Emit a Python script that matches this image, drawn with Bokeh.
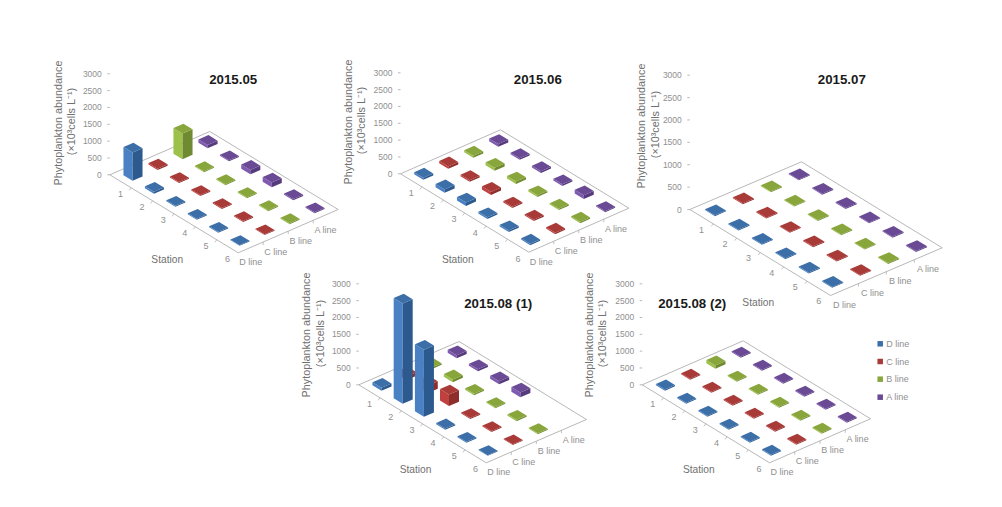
from bokeh.plotting import figure
from bokeh.models import Range1d, ColumnDataSource
from bokeh.core.properties import value
from bokeh.embed import file_html
from bokeh.resources import INLINE
import math

# ---------- data ----------
stations = ["1", "2", "3", "4", "5", "6"]
lines = ["D line", "C line", "B line", "A line"]
y_ticks = [0, 500, 1000, 1500, 2000, 2500, 3000]
titles = ["2015.05", "2015.06", "2015.07", "2015.08 (1)", "2015.08 (2)"]
N = None

may_D = [840, 60, 30, 30, 30, 20]
may_C = [40, 30, 30, 30, 30, 20]
may_B = [760, 30, 30, 30, 30, 30]
may_A = [100, 30, 130, 140, 40, 30]

jun_D = [60, 100, 100, 50, 50, 40]
jun_C = [70, 50, 90, 40, 40, 40]
jun_B = [60, 90, 70, 50, 40, 40]
jun_A = [80, 50, 50, 50, 110, 30]

jul_D = [20, 20, 20, 20, 20, 20]
jul_C = [20, 20, 20, 20, 20, 20]
jul_B = [20, 20, 20, 20, 20, 20]
jul_A = [20, 20, 20, 20, 20, 20]

aug1_D = [90, 2980, 1990, 40, 30, 20]
aug1_C = [100, 220, 340, 30, 30, 20]
aug1_B = [50, 80, 40, 30, 40, 30]
aug1_A = [90, 60, 90, 140, N, N]

aug2_D = [40, 30, 30, 30, 30, 30]
aug2_C = [30, 30, 30, 30, 30, 30]
aug2_B = [100, 30, 30, 30, 30, 30]
aug2_A = [30, 30, 30, 30, 30, 30]

panel_values = [
    [may_D, may_C, may_B, may_A],
    [jun_D, jun_C, jun_B, jun_A],
    [jul_D, jul_C, jul_B, jul_A],
    [aug1_D, aug1_C, aug1_B, aug1_A],
    [aug2_D, aug2_C, aug2_B, aug2_A],
]

# ---------- layout (page pixels) ----------
panels = [
    dict(L=(109.3, 174.3), B=(237.7, 252.3), R=(337.7, 209.0), top=73.3, title=(232.7, 79),
         ylab=(57.7, 70.0), yc=121, st=(57.4, 85)),
    dict(L=(400.0, 173.3), B=(528.3, 251.7), R=(628.3, 207.7), top=72.3, title=(537.3, 79),
         ylab=(347.3, 360.0), yc=120, st=(57.3, 85.4)),
    dict(L=(689.3, 209.0), B=(830.0, 295.0), R=(941.7, 247.3), top=74.7, title=(841.3, 79.3),
         ylab=(640.0, 654.0), yc=124, st=(68.4, 92.7)),
    dict(L=(358.3, 384.3), B=(485.7, 462.3), R=(586.0, 419.0), top=283.3, title=(497.7, 303.3),
         ylab=(305.7, 319.0), yc=333, st=(56.7, 84.7)),
    dict(L=(641.7, 384.3), B=(769.0, 462.3), R=(870.0, 418.3), top=283.3, title=(691.7, 303.3),
         ylab=(588.0, 601.7), yc=333, st=(56.6, 84.7)),
]
legend_ys = [343.3, 361.0, 378.7, 396.7]
legend_x = 879.7

colors = [
    ("#3c6fa8", "#4a80c4", "#2c5a8e", "#3c6fa8"),
    ("#a83a38", "#c0403e", "#8e2e2c", "#a83a38"),
    ("#88a63c", "#9cc04a", "#6f8a30", "#88a63c"),
    ("#6a4a94", "#7e5ab0", "#553a7c", "#6a4a94"),
]
TICK_TEXT = "#909090"
LAB_TEXT = "#707070"
EDGE = "#a6a6a6"
FOOT = 0.2  # half footprint, as share of a cell

W, H = 986, 491
p = figure(width=W, height=H, x_range=Range1d(0, W), y_range=Range1d(H, 0),
           output_backend="svg", toolbar_location=None, min_border=0,
           background_fill_color="white", outline_line_color=None)
p.axis.visible = False
p.grid.visible = False


def add_text(xs, ys, txt, size, color, align="center", angle=0.0, style="normal", font="Liberation Sans"):
    p.text(x=xs, y=ys, text=txt, text_font=value(font), text_font_size=value(f"{size}px"),
           text_color=color, text_align=align, text_baseline="middle", angle=angle,
           text_font_style=style)


for cfg, vals, title in zip(panels, panel_values, titles):
    Lx, Ly = cfg["L"]
    Bx, By = cfg["B"]
    Rx, Ry = cfg["R"]
    Sx, Sy = Bx - Lx, By - Ly
    Tx, Ty = Rx - Bx, Ry - By
    zs = (Ly - cfg["top"]) / y_ticks[-1]
    ns, nl = len(stations), len(lines)

    p.line([Lx, Bx, Rx, Lx + Tx, Lx], [Ly, By, Ry, Ly + Ty, Ly], line_color=EDGE, line_width=0.8)

    tx0 = Lx - 2.5
    p.segment(x0=[tx0] * len(y_ticks), x1=[Lx] * len(y_ticks),
              y0=[Ly - v * zs for v in y_ticks], y1=[Ly - v * zs for v in y_ticks],
              line_color=EDGE, line_width=0.8)
    add_text([Lx - 8] * len(y_ticks), [Ly - v * zs for v in y_ticks],
             [str(v) for v in y_ticks], 8.5, TICK_TEXT, align="right")

    fr = [k / ns for k in range(1, ns)]
    p.segment(x0=[Lx + f * Sx for f in fr], y0=[Ly + f * Sy for f in fr],
              x1=[Lx + f * Sx - 2 for f in fr], y1=[Ly + f * Sy + 2.5 for f in fr],
              line_color=EDGE, line_width=0.7)
    add_text([Lx + (k + .5) / ns * Sx for k in range(ns)],
             [Ly + (k + .5) / ns * Sy + 13 for k in range(ns)], stations, 9, TICK_TEXT)

    fr = [k / nl for k in range(1, nl)]
    p.segment(x0=[Bx + f * Tx for f in fr], y0=[By + f * Ty for f in fr],
              x1=[Bx + f * Tx for f in fr], y1=[By + f * Ty + 3 for f in fr],
              line_color=EDGE, line_width=0.7)
    add_text([Bx + (k + .5) / nl * Tx for k in range(nl)],
             [By + (k + .5) / nl * Ty + 15 for k in range(nl)], lines, 9, TICK_TEXT)

    add_text([cfg["title"][0]], [cfg["title"][1]], [title], 13.3, "#1a1a1a", style="bold")
    add_text([cfg["st"][0] + Lx], [cfg["st"][1] + Ly], ["Station"], 10.2, LAB_TEXT)
    add_text([cfg["ylab"][0]], [cfg["yc"]], ["Phytoplankton  abundance"], 10.8, LAB_TEXT, angle=math.pi / 2)
    add_text([cfg["ylab"][1]], [cfg["yc"]], ["(\u00d710\u00b3cells L\u207b\u00b9)"], 10.8, LAB_TEXT, angle=math.pi / 2)

    bars = []
    for j in range(nl):
        for i in range(ns):
            v = vals[j][i]
            if v is None:
                continue
            cx = Lx + (i + .5) / ns * Sx + (j + .5) / nl * Tx
            cy = Ly + (i + .5) / ns * Sy + (j + .5) / nl * Ty
            bars.append((cy, cx, j, v))
    bars.sort(key=lambda b: b[0])
    sx, sy = FOOT * Sx / ns * 1.06, FOOT * Sy / ns * 1.06
    tx, ty = FOOT * Tx / nl, FOOT * Ty / nl
    for cy, cx, j, v in bars:
        h = v * zs
        left = (cx - sx - tx, cy - sy - ty)
        bottom = (cx + sx - tx, cy + sy - ty)
        right = (cx + sx + tx, cy + sy + ty)
        back = (cx - sx + tx, cy - sy + ty)
        top_col, left_col, right_col, _ = colors[j]
        p.patch([left[0], bottom[0], bottom[0], left[0]],
                [left[1], bottom[1], bottom[1] - h, left[1] - h],
                fill_color=left_col, fill_alpha=1.0, line_color=None)
        p.patch([bottom[0], right[0], right[0], bottom[0]],
                [bottom[1], right[1], right[1] - h, bottom[1] - h],
                fill_color=right_col, fill_alpha=1.0, line_color=None)
        p.patch([left[0], bottom[0], right[0], back[0]],
                [left[1] - h, bottom[1] - h, right[1] - h, back[1] - h],
                fill_color=top_col, fill_alpha=1.0, line_color=None)

p.scatter(x=[legend_x] * 4, y=legend_ys, marker="square", size=5.5,
          fill_color=[c[3] for c in colors], fill_alpha=1.0, line_color=None)
add_text([legend_x + 6] * 4, legend_ys, lines, 9, TICK_TEXT, align="left")

open("out.html", "w").write(file_html(p, INLINE))
